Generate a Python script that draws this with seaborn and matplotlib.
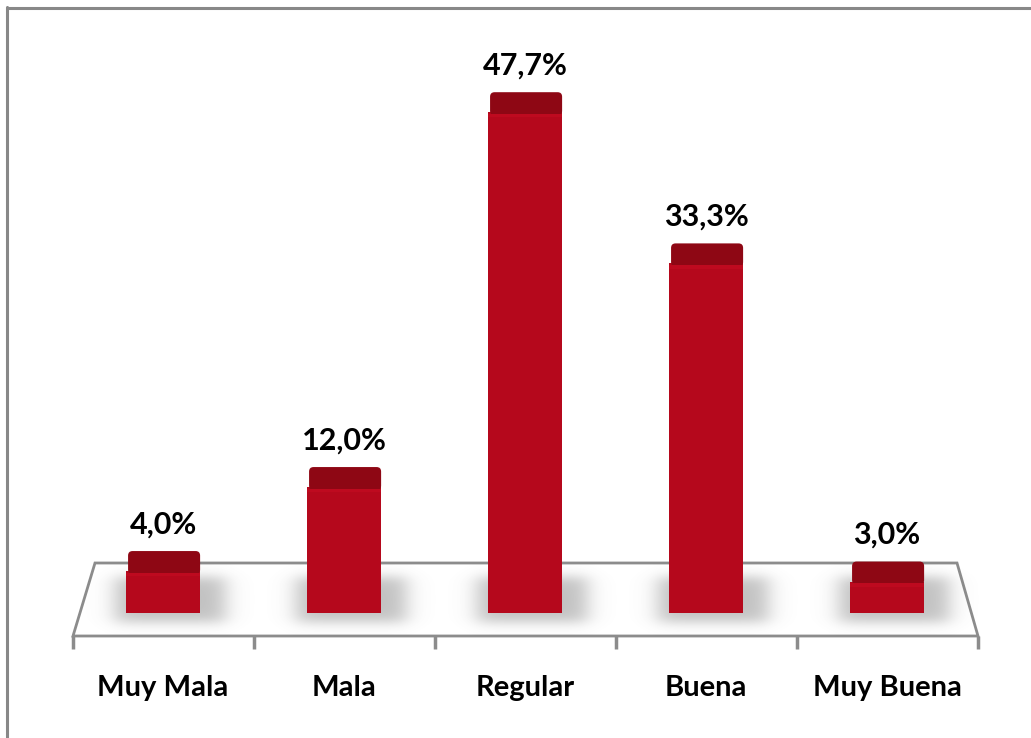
import numpy as np
import pandas as pd
import matplotlib
matplotlib.use("Agg")
import matplotlib.pyplot as plt
import seaborn as sns
from matplotlib.patches import Polygon, Rectangle, FancyBboxPatch

# data
categories = ["Muy Mala", "Mala", "Regular", "Buena", "Muy Buena"]
values = [4.0, 12.0, 47.7, 33.3, 3.0]
labels = ["4,0%", "12,0%", "47,7%", "33,3%", "3,0%"]

df = pd.DataFrame({"Categoria": categories, "Porcentaje": values})

sns.set_theme(style="white")
plt.rcParams["font.family"] = ["Lato", "DejaVu Sans"]

fig = plt.figure(figsize=(10.31, 7.38), dpi=100)
ax = fig.add_axes([0, 0, 1, 1])

# bars first (seaborn resets the limits), then fix the pixel mapping
bw = 0.41
sns.barplot(data=df, x="Categoria", y="Porcentaje", color="#B5081C", saturation=1,
            width=bw, ax=ax, zorder=3, linewidth=0, edgecolor="none")

# pixel mapping: center of first bar at x=163px, 181px per category, 0% at y=613px, 10.5px per %
px_cat = 181.0
px_pct = 10.5
ax.set_xlim(-163 / px_cat, (1031 - 163) / px_cat)
ax.set_ylim(-(738 - 613) / px_pct, 613 / px_pct)

grey = "#8c8c8c"

# floor
back_y = (613 - 563) / px_pct
front_y = (613 - 636) / px_pct
floor = Polygon([[(95 - 163) / px_cat, back_y], [(957 - 163) / px_cat, back_y],
                 [(978 - 163) / px_cat, front_y], [(73 - 163) / px_cat, front_y]],
                closed=True, facecolor="white", edgecolor=grey, lw=2, zorder=1)
ax.add_patch(floor)
tick_bottom = (613 - 649) / px_pct
for i in range(len(categories) + 1):
    x = -0.5 + i
    ax.plot([x, x], [front_y, tick_bottom], color=grey, lw=2.5, zorder=1, solid_capstyle="butt")

# soft blurred shadow behind each bar
def soft(t, a, b, w):
    return 1 / (1 + np.exp(-(t - a) / w)) * 1 / (1 + np.exp((t - b) / w))

for i in range(len(categories)):
    x0, x1 = i - bw / 2 - 0.22, i + bw / 2 + 0.32
    y0, y1 = -2.2, 4.6
    xs = np.linspace(x0, x1, 200)
    ys = np.linspace(y0, y1, 80)
    ax_ = soft(xs, i - bw / 2 - 0.06, i + bw / 2 + 0.14, 0.035)
    ay_ = soft(ys, -0.9, 3.4, 0.35)
    alpha = 0.42 * np.outer(ay_, ax_)
    img = np.zeros((len(ys), len(xs), 4))
    img[..., :3] = 0.42
    img[..., 3] = alpha
    ax.imshow(img, extent=(x0, x1, y0, y1), origin="lower", aspect="auto",
              interpolation="bilinear", zorder=2)

ax.set_xlim(-163 / px_cat, (1031 - 163) / px_cat)
ax.set_ylim(-(738 - 613) / px_pct, 613 / px_pct)

# bar tops
cap = 2.2
for i, v in enumerate(values):
    ax.add_patch(FancyBboxPatch((i - bw / 2 + 0.012, v - 0.3), bw - 0.012, cap,
                                boxstyle="round,pad=0,rounding_size=0.025",
                                mutation_aspect=px_cat / px_pct,
                                facecolor="#8E0714", edgecolor="none", zorder=4))
    ax.add_patch(Rectangle((i - bw / 2, v - 0.5), bw, 0.35, facecolor="#BE0A1F",
                           edgecolor="none", zorder=5))
    ax.text(i, v + cap + 0.9, labels[i], ha="center", va="bottom",
            fontsize=22, fontweight="bold", color="black", zorder=6)

# category labels
for i, c in enumerate(categories):
    ax.text(i, (613 - 688) / px_pct, c, ha="center", va="center",
            fontsize=21, fontweight="bold", color="black")

ax.set_xlabel("")
ax.set_ylabel("")
ax.set_xticks([])
ax.set_yticks([])
for s in ax.spines.values():
    s.set_visible(False)

# outer frame (left and top edges)
fig.add_artist(plt.Line2D([7 / 1031, 7 / 1031], [0, 1 - 7 / 738], color="#888888", lw=2.2))
fig.add_artist(plt.Line2D([7 / 1031, 1], [1 - 8 / 738, 1 - 8 / 738], color="#888888", lw=2.2))

fig.savefig("out.png", dpi=100)
